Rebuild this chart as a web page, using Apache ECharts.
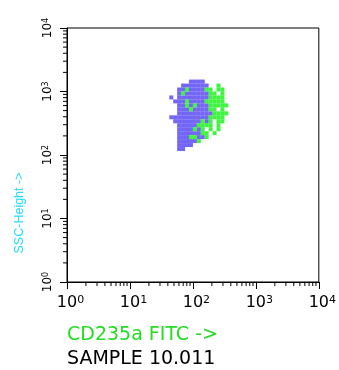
<!DOCTYPE html>
<html>
<head>
<meta charset="utf-8">
<script src="https://cdn.jsdelivr.net/npm/echarts@6/dist/echarts.min.js"></script>
<style>
  html, body { margin: 0; padding: 0; background: #fff; }
  #chart { width: 339px; height: 370px; }
</style>
</head>
<body>
<div id="chart"></div>
<script>
// Axis ranges (log scale, decades)
const axisMin = 1;
const axisMax = 10000;
const minorMultipliers = [2, 3, 4, 5, 6, 7, 8, 9];
const decadeStarts = [1, 10, 100, 1000];

// b = blue population, g = green population, . = empty
const channelsPerDecade = 16;
const firstColChannel = 25; // x channel of first column
const topRowChannel = 50;   // y channel of first row
const dotMap = [
  "......bbbb......",
  "....bbbbbbb..g..",
  "...bbgbbbbgg.gg.",
  "...bgbbbbbbgg.g.",
  ".b.bbbbbbbbgggg.",
  "..bbbgbbbbggggg.",
  "...bbgbgbbbggggg",
  "...bbbgbbbbgg.g.",
  "...bbbbbbbbbgggg",
  ".bbbbbbbbbbgggg.",
  "..bbbbbbbgbg.gg.",
  "...bbbbbgggg.g..",
  "...bbbbgbg.g.g..",
  "...bbbbbbgg.g...",
  "...bbbggbbg.....",
  "...bbbbbg.......",
  "...bbbb.........",
  "...bb..........."
];

const blueColor = "#5040f4";
const greenColor = "#12f012";

function channelValue(ch) {
  return Math.pow(10, (ch + 0.5) / channelsPerDecade);
}

const blueData = [];
const greenData = [];
dotMap.forEach((row, r) => {
  for (let k = 0; k < row.length; k++) {
    const pt = [channelValue(firstColChannel + k), channelValue(topRowChannel - r)];
    if (row[k] === "b") blueData.push(pt);
    else if (row[k] === "g") greenData.push(pt);
  }
});

const minorValues = [];
decadeStarts.forEach((d) => minorMultipliers.forEach((m) => minorValues.push(m * d)));

const supLabel = (value) => "{b|10}{s|" + Math.round(Math.log10(value)) + "}";

const chart = echarts.init(document.getElementById("chart"));

const option = {
  animation: false,
  backgroundColor: "#fff",
  grid: {
    left: 67,
    right: 18,
    top: 28,
    bottom: 88,
    show: true,
    borderColor: "#000",
    borderWidth: 1,
    backgroundColor: "transparent",
  },
  xAxis: {
    type: "log",
    logBase: 10,
    min: axisMin,
    max: axisMax,
    axisLine: { show: true, lineStyle: { color: "#000", width: 1 } },
    axisTick: { show: true, length: 7, lineStyle: { color: "#000" } },
    splitLine: { show: false },
    axisLabel: {
      margin: 13,
      color: "#000",
      formatter: supLabel,
      rich: {
        b: { fontFamily: "DejaVu Sans", fontSize: 16, lineHeight: 16, verticalAlign: "bottom", padding: [5, 0, 0, 7], color: "#000" },
        s: { fontFamily: "DejaVu Sans", fontSize: 11, lineHeight: 11, verticalAlign: "top", color: "#000" },
      },
    },
  },
  yAxis: {
    type: "log",
    logBase: 10,
    min: axisMin,
    max: axisMax,
    axisLine: { show: true, lineStyle: { color: "#000", width: 1 } },
    axisTick: { show: true, length: 7, lineStyle: { color: "#000" } },
    splitLine: { show: false },
    axisLabel: {
      rotate: 90,
      margin: 13,
      color: "#000",
      formatter: supLabel,
      rich: {
        b: { fontFamily: "DejaVu Sans", fontSize: 12, lineHeight: 12, verticalAlign: "bottom", padding: [3, 0, 0, 0], color: "#000" },
        s: { fontFamily: "DejaVu Sans", fontSize: 8, lineHeight: 8, verticalAlign: "top", color: "#000" },
      },
    },
  },
  graphic: [
    {
      type: "text",
      x: 20,
      y: 213,
      rotation: Math.PI / 2,
      style: {
        text: "SSC-Height ->",
        fill: "#22ddff",
        font: "12.5px 'Liberation Sans'",
        align: "center",
        verticalAlign: "middle",
        textAlign: "center",
        textVerticalAlign: "middle",
      },
    },
    {
      type: "text",
      x: 67,
      y: 335,
      style: {
        text: "CD235a FITC ->",
        fill: "#22dd22",
        font: "19px 'DejaVu Sans'",
        align: "left",
        verticalAlign: "middle",
        textAlign: "left",
        textVerticalAlign: "middle",
      },
    },
    {
      type: "text",
      x: 67,
      y: 359,
      style: {
        text: "SAMPLE 10.011",
        fill: "#000",
        font: "19px 'DejaVu Sans'",
        align: "left",
        verticalAlign: "middle",
        textAlign: "left",
        textVerticalAlign: "middle",
      },
    },
  ],
  series: [
    {
      name: "blue",
      type: "scatter",
      symbol: "rect",
      symbolSize: 4,
      itemStyle: { color: blueColor },
      data: blueData,
    },
    {
      name: "green",
      type: "scatter",
      symbol: "rect",
      symbolSize: 4,
      itemStyle: { color: greenColor },
      data: greenData,
    },
    {
      // minor ticks on the x axis (log positions 2..9)
      name: "xMinor",
      type: "custom",
      silent: true,
      clip: false,
      data: minorValues.map((v) => [v, axisMin]),
      renderItem: (params, api) => {
        const p = api.coord([api.value(0), api.value(1)]);
        return {
          type: "line",
          shape: { x1: p[0], y1: p[1], x2: p[0], y2: p[1] + 4 },
          style: { stroke: "#000", lineWidth: 1 },
        };
      },
    },
    {
      // minor ticks on the y axis
      name: "yMinor",
      type: "custom",
      silent: true,
      clip: false,
      data: minorValues.map((v) => [axisMin, v]),
      renderItem: (params, api) => {
        const p = api.coord([api.value(0), api.value(1)]);
        return {
          type: "line",
          shape: { x1: p[0], y1: p[1], x2: p[0] - 4, y2: p[1] },
          style: { stroke: "#000", lineWidth: 1 },
        };
      },
    },
  ],
};

chart.setOption(option);
</script>
</body>
</html>
